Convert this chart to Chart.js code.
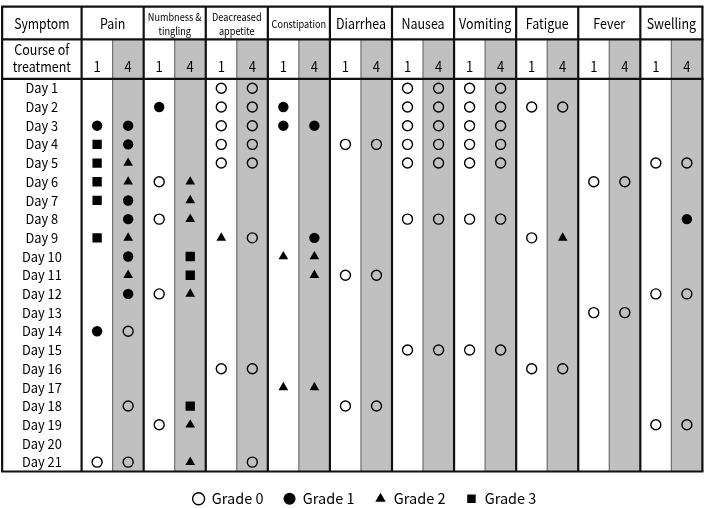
<!DOCTYPE html>
<html>
<head>
<meta charset="utf-8">
<script src="https://cdn.jsdelivr.net/npm/chart.js@4.4.0/dist/chart.umd.min.js"></script>
<style>
  html, body { margin: 0; padding: 0; background: #fff; }
</style>
</head>
<body>
<canvas id="gradeChart" width="709" height="508"></canvas>
<script>
// symptom groups, each split in course 1 / course 4
const symptoms = ['Pain', 'Numbness &\ntingling', 'Deacreased\nappetite', 'Constipation', 'Diarrhea',
                  'Nausea', 'Vomiting', 'Fatigue', 'Fever', 'Swelling'];
const courses = ['1', '4'];
const dayLabels = ['Day 1', 'Day 2', 'Day 3', 'Day 4', 'Day 5', 'Day 6', 'Day 7', 'Day 8', 'Day 9', 'Day 10',
                   'Day 11', 'Day 12', 'Day 13', 'Day 14', 'Day 15', 'Day 16', 'Day 17', 'Day 18', 'Day 19',
                   'Day 20', 'Day 21'];
const gradeLabels = ['Grade 0', 'Grade 1', 'Grade 2', 'Grade 3'];

// [day, grade] per symptom and course
const pain1 = [[3,1],[4,3],[5,3],[6,3],[7,3],[9,3],[14,1],[21,0]];
const pain4 = [[3,1],[4,1],[5,2],[6,2],[7,1],[8,1],[9,2],[10,1],[11,2],[12,1],[14,0],[18,0],[21,0]];
const numbness1 = [[2,1],[6,0],[8,0],[12,0],[19,0]];
const numbness4 = [[6,2],[7,2],[8,2],[10,3],[11,3],[12,2],[18,3],[19,2],[21,2]];
const appetite1 = [[1,0],[2,0],[3,0],[4,0],[5,0],[9,2],[16,0]];
const appetite4 = [[1,0],[2,0],[3,0],[4,0],[5,0],[9,0],[16,0],[21,0]];
const constipation1 = [[2,1],[3,1],[10,2],[17,2]];
const constipation4 = [[3,1],[9,1],[10,2],[11,2],[17,2]];
const diarrhea1 = [[4,0],[11,0],[18,0]];
const diarrhea4 = [[4,0],[11,0],[18,0]];
const nausea1 = [[1,0],[2,0],[3,0],[4,0],[5,0],[8,0],[15,0]];
const nausea4 = [[1,0],[2,0],[3,0],[4,0],[5,0],[8,0],[15,0]];
const vomiting1 = [[1,0],[2,0],[3,0],[4,0],[5,0],[8,0],[15,0]];
const vomiting4 = [[1,0],[2,0],[3,0],[4,0],[5,0],[8,0],[15,0]];
const fatigue1 = [[2,0],[9,0],[16,0]];
const fatigue4 = [[2,0],[9,2],[16,0]];
const fever1 = [[6,0],[13,0]];
const fever4 = [[6,0],[13,0]];
const swelling1 = [[5,0],[12,0],[19,0]];
const swelling4 = [[5,0],[8,1],[12,0],[19,0]];

const columns = [pain1, pain4, numbness1, numbness4, appetite1, appetite4, constipation1, constipation4,
                 diarrhea1, diarrhea4, nausea1, nausea4, vomiting1, vomiting4, fatigue1, fatigue4,
                 fever1, fever4, swelling1, swelling4];

// table layout in scale units (one unit = one sub column / one day row)
const LABEL_W = 2.56;
const HEAD1 = 1.75;
const HEAD2 = 2.12;
const FONT = '"Noto Sans CJK JP", "Noto Sans", sans-serif';
const GRAY = '#c0c0c0';

const markerStyle = [
    { pointStyle: 'circle', radius: 5, bg: 'rgba(0,0,0,0)', bw: 1.4 },
    { pointStyle: 'circle', radius: 5.2, bg: '#000', bw: 0 },
    { pointStyle: 'triangle', radius: 5.6, bg: '#000', bw: 0 },
    { pointStyle: 'rect', radius: 6.6, bg: '#000', bw: 0 }
];

const datasets = gradeLabels.map((label, g) => ({
    label: label,
    data: columns.flatMap((col, c) => col.filter(p => p[1] === g).map(p => ({ x: c + 0.5, y: p[0] - 0.5 }))),
    pointStyle: markerStyle[g].pointStyle,
    pointRadius: markerStyle[g].radius,
    pointHoverRadius: markerStyle[g].radius,
    backgroundColor: markerStyle[g].bg,
    borderColor: '#000',
    pointBorderWidth: markerStyle[g].bw,
    showLine: false
}));

// condensed text, the original uses a narrow gothic face
function drawText(ctx, text, px, py, size, sx) {
    ctx.save();
    ctx.translate(px, py);
    ctx.scale(sx, 1);
    ctx.font = size + 'px ' + FONT;
    ctx.fillText(text, 0, 0);
    ctx.restore();
}

const tablePlugin = {
    id: 'tableGrid',
    beforeDatasetsDraw(chart) {
        const { ctx, scales: { x, y } } = chart;
        const top = -HEAD1 - HEAD2;
        const nCols = symptoms.length * 2;
        ctx.save();

        // gray course-4 columns
        ctx.fillStyle = GRAY;
        for (let c = 1; c < nCols; c += 2) {
            ctx.fillRect(x.getPixelForValue(c), y.getPixelForValue(-HEAD2),
                         x.getPixelForValue(c + 1) - x.getPixelForValue(c),
                         y.getPixelForValue(21) - y.getPixelForValue(-HEAD2));
        }

        // thin lines between course 1 and 4
        ctx.strokeStyle = '#6e6e6e';
        ctx.lineWidth = 1.2;
        for (let c = 1; c < nCols; c += 2) {
            const px = x.getPixelForValue(c);
            ctx.beginPath();
            ctx.moveTo(px, y.getPixelForValue(-HEAD2));
            ctx.lineTo(px, y.getPixelForValue(21));
            ctx.stroke();
        }

        // thick black lines
        ctx.strokeStyle = '#111';
        ctx.lineWidth = 2.2;
        const vLines = [-LABEL_W];
        for (let c = 0; c <= nCols; c += 2) vLines.push(c);
        vLines.forEach(v => {
            const px = x.getPixelForValue(v);
            ctx.beginPath();
            ctx.moveTo(px, y.getPixelForValue(top));
            ctx.lineTo(px, y.getPixelForValue(21));
            ctx.stroke();
        });
        [top, -HEAD2, 0, 21].forEach(h => {
            const py = y.getPixelForValue(h);
            ctx.beginPath();
            ctx.moveTo(x.getPixelForValue(-LABEL_W) - 1, py);
            ctx.lineTo(x.getPixelForValue(nCols) + 1, py);
            ctx.stroke();
        });

        // texts
        ctx.fillStyle = '#000';
        ctx.textAlign = 'center';
        ctx.textBaseline = 'middle';
        const labelX = x.getPixelForValue(-LABEL_W / 2);
        const head1Y = y.getPixelForValue(top + HEAD1 / 2) + 1;
        const head2Y = y.getPixelForValue(-HEAD2 / 2) - 3;

        drawText(ctx, 'Symptom', labelX, head1Y, 14.5, 0.84);
        drawText(ctx, 'Course of', labelX, head2Y - 7, 14.5, 0.86);
        drawText(ctx, 'treatment', labelX, head2Y + 10, 14.5, 0.86);

        symptoms.forEach((s, i) => {
            const cx = x.getPixelForValue(i * 2 + 1);
            const lines = s.split('\n');
            const small = lines.length > 1 || s.length > 10;
            lines.forEach((ln, k) => {
                const off = (k - (lines.length - 1) / 2) * 14;
                if (small) drawText(ctx, ln, cx, head1Y + off, 10.5, 0.87);
                else drawText(ctx, ln, cx, head1Y + off, 14.5, 0.86);
            });
            courses.forEach((cLabel, j) => {
                drawText(ctx, cLabel, x.getPixelForValue(i * 2 + j + 0.5), head2Y + 10, 14.5, 0.9);
            });
        });

        dayLabels.forEach((d, i) => {
            drawText(ctx, d, labelX, y.getPixelForValue(i + 0.5), 13.5, 0.95);
        });
        ctx.restore();
    }
};

// chart area starts 20px in so the centred legend sits where the original has it;
// the label column is drawn left of the area through the same x scale
const X_MAX = 20;
const X_MIN = X_MAX - (707 - 22) / 31.25;

new Chart(document.getElementById('gradeChart'), {
    type: 'scatter',
    data: { datasets: datasets },
    options: {
        responsive: false,
        animation: false,
        layout: { padding: { left: 22, right: 2, top: 2, bottom: -8 } },
        scales: {
            x: { type: 'linear', min: X_MIN, max: X_MAX, display: false },
            y: { type: 'linear', min: -HEAD1 - HEAD2, max: 21, reverse: true, display: false }
        },
        plugins: {
            tooltip: { enabled: false },
            legend: {
                position: 'bottom',
                labels: {
                    usePointStyle: true,
                    boxWidth: 12,
                    boxHeight: 8.5,
                    padding: 20,
                    color: '#000',
                    font: { family: FONT, size: 14.5 }
                }
            }
        }
    },
    plugins: [tablePlugin]
});
</script>
</body>
</html>
